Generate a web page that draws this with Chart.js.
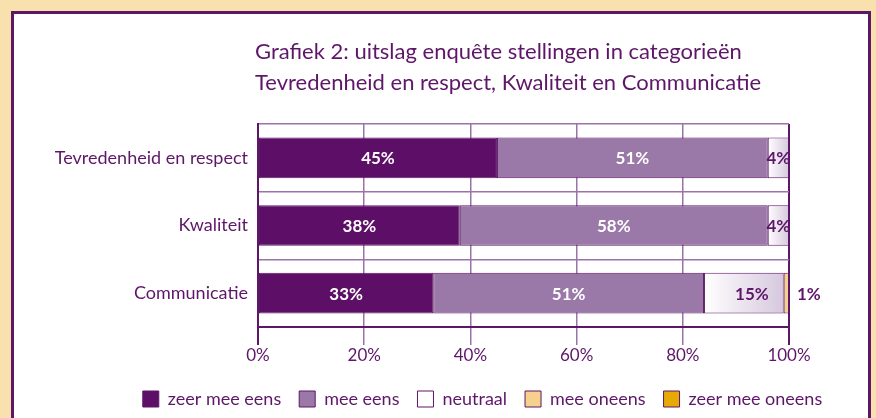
<!DOCTYPE html>
<html>
<head>
<meta charset="utf-8">
<script src="https://cdn.jsdelivr.net/npm/chart.js@4"></script>
<style>
  html, body { margin: 0; padding: 0; }
  body { width: 876px; height: 418px; background: #F8E1AC; position: relative; overflow: hidden; }
  #panel { position: absolute; left: 11px; top: 11px; width: 854px; height: 420px; background: #fff; border: 3px solid #5E1669; }
  #chart { position: absolute; left: 0; top: 0; }
</style>
</head>
<body>
<div id="panel"></div>
<canvas id="chart" width="876" height="418"></canvas>
<script>
const categories = ["Tevredenheid en respect", "Kwaliteit", "Communicatie"];
const seriesNames = ["zeer mee eens", "mee eens", "neutraal", "mee oneens", "zeer mee oneens"];
const zeerMeeEens = [45, 38, 33];
const meeEens = [51, 58, 51];
const neutraal = [4, 4, 15];
const meeOneens = [0, 0, 1];
const zeerMeeOneens = [0, 0, 0];
const xTicks = [0, 20, 40, 60, 80, 100];
const titleLines = [
	"Grafiek 2: uitslag enquête stellingen in categorieën",
	"Tevredenheid en respect, Kwaliteit en Communicatie",
];

const purple = "#5E1669";
const gridPurple = "#9A73A8";
const font = "Lato";

// neutraal bars fade from white to light lavender
function neutraalFill(ctx) {
	const chart = ctx.chart;
	if (ctx.type !== "data" || !chart.scales.x) return "#ECE4F0";
	const i = ctx.dataIndex;
	const start = zeerMeeEens[i] + meeEens[i];
	const x0 = chart.scales.x.getPixelForValue(start);
	const x1 = chart.scales.x.getPixelForValue(start + neutraal[i]);
	if (!isFinite(x0) || !isFinite(x1)) return "#ECE4F0";
	const g = chart.ctx.createLinearGradient(x0, 0, x1, 0);
	g.addColorStop(0, "#FFFFFF");
	g.addColorStop(1, "#D6C8DE");
	return g;
}

const titlePlugin = {
	id: "titleLines",
	beforeDraw(chart) {
		// legend sits centred under the whole panel, not just the plot
		const lg = chart.legend;
		if (lg) {
			lg.left += 88;
			lg.right += 88;
		}
	},
	afterDraw(chart) {
		const c = chart.ctx;
		c.save();
		c.font = "22px " + font;
		c.fillStyle = purple;
		c.textAlign = "left";
		c.textBaseline = "middle";
		c.fillText(titleLines[0], 255, 52);
		c.fillText(titleLines[1], 255, 83);
		c.restore();
		if (chart.legend) {
			chart.legend.left -= 88;
			chart.legend.right -= 88;
		}
	},
};

const barLabels = {
	id: "barLabels",
	afterDatasetsDraw(chart) {
		const c = chart.ctx;
		c.save();
		c.font = "bold 17px " + font;
		c.textBaseline = "middle";
		c.textAlign = "center";
		chart.data.datasets.forEach((ds, d) => {
			const meta = chart.getDatasetMeta(d);
			meta.data.forEach((bar, i) => {
				const v = ds.data[i];
				if (!v) return;
				const txt = v + "%";
				const w = c.measureText(txt).width;
				const left = Math.min(bar.x, bar.base);
				const right = Math.max(bar.x, bar.base);
				let x = (left + right) / 2;
				c.fillStyle = d < 2 ? "#FFFFFF" : purple;
				if (d === 2) x = Math.max(x, right - 15 - w / 2);
				if (d >= 3) x = chart.chartArea.right + 8 + w / 2;
				c.fillText(txt, x, bar.y + 1);
			});
		});
		c.restore();
	},
};

const seriesData = [zeerMeeEens, meeEens, neutraal, meeOneens, zeerMeeOneens];
const seriesColors = ["#5D0E66", "#9A78A7", neutraalFill, "#F6D18E", "#E6A905"];

const chart = new Chart(document.getElementById("chart"), {
	type: "bar",
	data: {
		labels: categories,
		datasets: seriesNames.map((name, k) => ({
			label: name,
			data: seriesData[k],
			backgroundColor: seriesColors[k],
			borderColor: purple,
			borderWidth: 1,
			borderSkipped: false,
			barPercentage: 0.6,
			categoryPercentage: 1,
		})),
	},
	options: {
		indexAxis: "y",
		responsive: false,
		animation: false,
		layout: { padding: { left: 0, right: 87, top: 124, bottom: 0 } },
		plugins: {
			tooltip: { enabled: false },
			legend: {
				position: "bottom",
				labels: {
					boxWidth: 16,
					boxHeight: 16,
					padding: 18,
					color: purple,
					font: { family: font, size: 18 },
				},
			},
		},
		scales: {
			x: {
				stacked: true,
				min: 0,
				max: 100,
				afterBuildTicks: (s) => {
					s.ticks = xTicks.map((v) => ({ value: v }));
				},
				afterFit: (s) => {
					s.height = 45;
				},
				ticks: {
					callback: (v) => v + "%",
					color: purple,
					font: { family: font, size: 17 },
					padding: 0,
					maxRotation: 0,
				},
				grid: {
					color: (ctx) => (ctx.tick && (ctx.tick.value === 0 || ctx.tick.value === 100) ? purple : gridPurple),
					lineWidth: (ctx) => (ctx.tick && (ctx.tick.value === 0 || ctx.tick.value === 100) ? 2 : 1.5),
					tickLength: 18,
				},
				border: { color: purple, width: 2 },
			},
			y: {
				stacked: true,
				afterFit: (s) => {
					s.width = 258;
				},
				ticks: {
					color: purple,
					font: { family: font, size: 18 },
					padding: 10,
				},
				grid: { color: gridPurple, lineWidth: 1.5, drawTicks: false, offset: true },
				border: { color: purple, width: 2 },
			},
		},
	},
	plugins: [titlePlugin, barLabels],
});
chart.update();
</script>
</body>
</html>
